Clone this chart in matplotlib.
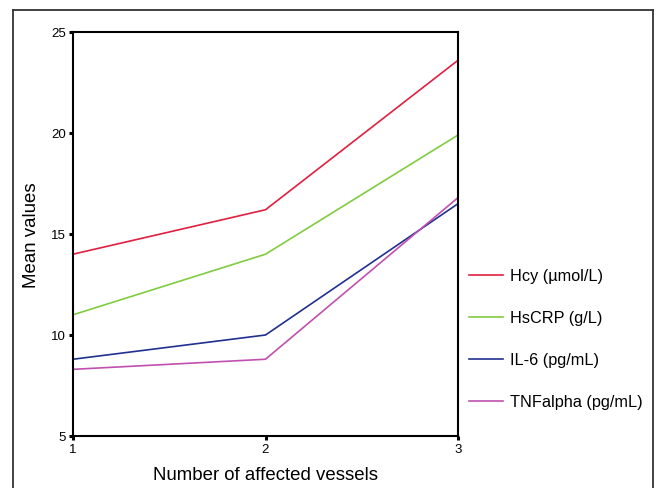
import matplotlib
matplotlib.use("Agg")
import matplotlib.pyplot as plt
from matplotlib.lines import Line2D

plt.rcParams['font.family'] = ['Liberation Sans', 'DejaVu Sans']

# Data
vessels = [1, 2, 3]
hcy = [14.0, 16.2, 23.6]
hscrp = [11.0, 14.0, 19.9]
il6 = [8.8, 10.0, 16.5]
tnf = [8.3, 8.8, 16.8]
labels = ['Hcy (µmol/L)', 'HsCRP (g/L)', 'IL-6 (pg/mL)', 'TNFalpha (pg/mL)']
colors = ['#e02040', '#80cc40', '#203090', '#c050b0']
yticks = [5, 10, 15, 20, 25]

fig = plt.figure(figsize=(6.59, 4.89), dpi=100)
ax = fig.add_axes([73/659, 1 - 437/489, (458 - 73)/659, (437 - 33)/489])

for vals, lab, col in zip([hcy, hscrp, il6, tnf], labels, colors):
    ax.plot(vessels, vals, color=col, lw=1.2, label=lab)

ax.set_xlim(1, 3)
ax.set_ylim(5, 25)
ax.set_xticks(vessels)
ax.set_yticks(yticks)
ax.tick_params(direction='out', length=3, width=2.2, labelsize=9.5, pad=2)
for s in ax.spines.values():
    s.set_linewidth(1.5)
ax.set_ylabel('Mean values', fontsize=13.4, labelpad=8)
ax.set_xlabel('Number of affected vessels', fontsize=13.4, labelpad=8)

ax.legend(loc='upper left', bbox_to_anchor=(1.028, 0.415), frameon=False,
          fontsize=11.7, handlelength=2.1, labelspacing=1.66, handletextpad=0.43,
          borderpad=0, borderaxespad=0)

# outer frame
fx0, fx1, fy1 = 13/659, 653/659, 1 - 11/489
for xs, ys in [([fx0, fx0], [0, fy1]), ([fx0, fx1], [fy1, fy1]), ([fx1, fx1], [fy1, 0])]:
    fig.add_artist(Line2D(xs, ys, color='#333333', lw=1.3, transform=fig.transFigure))

fig.savefig('out.png', dpi=100)
